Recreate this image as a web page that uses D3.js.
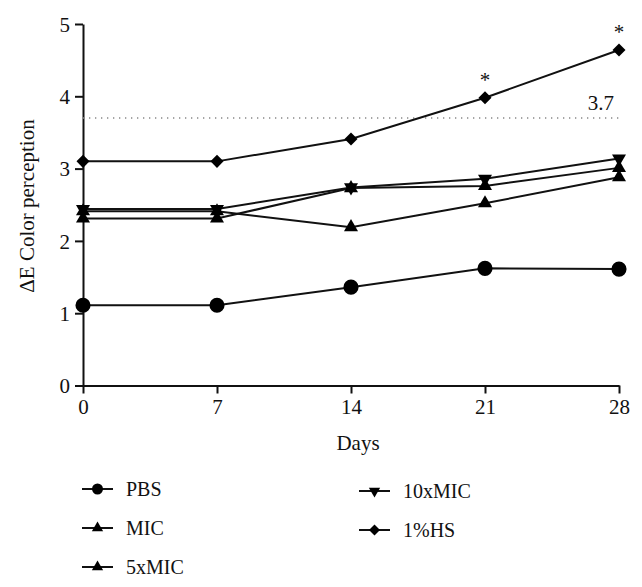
<!DOCTYPE html>
<html lang="en">
<head>
<meta charset="UTF-8">
<title>Delta E color perception</title>
<script src="https://d3js.org/d3.v7.min.js"></script>
<style>
    body { margin: 0; background: #fff; }
</style>
</head>
<body>
<svg id="chart" width="642" height="587"></svg>
<script>
    // values
    var days = [0, 7, 14, 21, 28];
    var pbs = [1.11, 1.11, 1.36, 1.62, 1.61];
    var mic = [2.41, 2.41, 2.19, 2.52, 2.88];
    var mic5 = [2.31, 2.31, 2.73, 2.76, 3.01];
    var mic10 = [2.44, 2.44, 2.74, 2.86, 3.14];
    var hs = [3.10, 3.10, 3.41, 3.98, 4.64];
    var yTicks = [0, 1, 2, 3, 4, 5];
    var threshold = 3.7;
    var starDays = [21, 28];

    var FONT = "'Liberation Serif', 'DejaVu Serif', 'Times New Roman', serif";

    var svg = d3.select('#chart')
        .style('font-family', FONT);

    var x = d3.scaleLinear().domain([0, 28]).range([83, 619]);
    var y = d3.scaleLinear().domain([0, 5]).range([385.5, 24]);

    var series = [
        {name: 'PBS', values: pbs, shape: 'circle', size: 180, lsize: 95},
        {name: 'MIC', values: mic, shape: 'up', size: 85, lsize: 55},
        {name: '5xMIC', values: mic5, shape: 'up', size: 85, lsize: 55},
        {name: '10xMIC', values: mic10, shape: 'down', size: 85, lsize: 55},
        {name: '1%HS', values: hs, shape: 'diamond', size: 85, lsize: 60}
    ];

    function symbolPath(shape, size) {
        if (shape === 'circle') return d3.symbol(d3.symbolCircle, size)();
        if (shape === 'diamond') return d3.symbol(d3.symbolSquare, size)();
        return d3.symbol(d3.symbolTriangle, size)();
    }
    function symbolRotate(shape) {
        if (shape === 'down') return ' rotate(180)';
        if (shape === 'diamond') return ' rotate(45)';
        return '';
    }
    function styleText(sel, size) {
        sel.attr('font-family', FONT).style('font-family', FONT)
            .style('font-size', (size || 20) + 'px').attr('fill', '#111');
    }

    // axes
    var yAxis = svg.append('g')
        .attr('transform', 'translate(83,0)')
        .call(d3.axisLeft(y).tickValues(yTicks).tickFormat(d3.format('d')).tickSizeInner(8).tickSizeOuter(0).tickPadding(5));
    var xAxis = svg.append('g')
        .attr('transform', 'translate(0,385.5)')
        .call(d3.axisBottom(x).tickValues(days).tickSizeInner(8).tickSizeOuter(0).tickPadding(6));
    [xAxis, yAxis].forEach(function (a) {
        a.attr('font-family', FONT);
        a.select('.domain').attr('stroke', '#111').attr('stroke-width', 2);
        a.selectAll('.tick line').attr('stroke', '#111').attr('stroke-width', 2);
        a.selectAll('.tick text').call(styleText, 21);
    });
    yAxis.selectAll('.tick text').attr('dy', '0.34em');

    // axis titles
    svg.append('text')
        .attr('transform', 'translate(34,206) rotate(-90)')
        .attr('text-anchor', 'middle')
        .call(styleText, 21)
        .text('\u0394E Color perception');
    svg.append('text')
        .attr('x', 358).attr('y', 450)
        .attr('text-anchor', 'middle')
        .call(styleText, 21)
        .text('Days');

    // threshold line
    svg.append('line')
        .attr('x1', x(0)).attr('x2', x(28))
        .attr('y1', y(threshold)).attr('y2', y(threshold))
        .attr('stroke', '#888').attr('stroke-width', 1.3)
        .attr('stroke-dasharray', '1.3,4.7');
    svg.append('text')
        .attr('x', 614).attr('y', y(threshold) - 8)
        .attr('text-anchor', 'end')
        .call(styleText, 21)
        .text(threshold);

    // lines and markers
    var line = d3.line()
        .x(function (d, i) { return x(days[i]); })
        .y(function (d) { return y(d); });

    series.forEach(function (s) {
        svg.append('path')
            .attr('d', line(s.values))
            .attr('fill', 'none')
            .attr('stroke', '#111')
            .attr('stroke-width', 2);
    });
    series.forEach(function (s) {
        svg.append('g').selectAll('path')
            .data(s.values)
            .enter()
            .append('path')
            .attr('d', symbolPath(s.shape, s.size))
            .attr('transform', function (d, i) {
                return 'translate(' + x(days[i]) + ',' + y(d) + ')' + symbolRotate(s.shape);
            })
            .attr('fill', '#000');
    });

    // significance stars
    svg.append('g').selectAll('text')
        .data(starDays)
        .enter()
        .append('text')
        .attr('x', function (d) { return x(d); })
        .attr('y', function (d) { return y(hs[days.indexOf(d)]) - 11; })
        .attr('text-anchor', 'middle')
        .call(styleText, 21)
        .text('*');

    // legend
    var legendPos = [[82, 489], [82, 528], [82, 567], [359, 491], [359, 530]];
    series.forEach(function (s, i) {
        var g = svg.append('g')
            .attr('transform', 'translate(' + legendPos[i][0] + ',' + legendPos[i][1] + ')');
        g.append('line')
            .attr('x1', 0).attr('x2', 31)
            .attr('stroke', '#111').attr('stroke-width', 2);
        g.append('path')
            .attr('d', symbolPath(s.shape, s.lsize))
            .attr('transform', 'translate(15.5,0)' + symbolRotate(s.shape))
            .attr('fill', '#000');
        g.append('text')
            .attr('x', 44).attr('y', 0)
            .attr('dy', '0.35em')
            .call(styleText, 20)
            .text(s.name);
    });
</script>
</body>
</html>
